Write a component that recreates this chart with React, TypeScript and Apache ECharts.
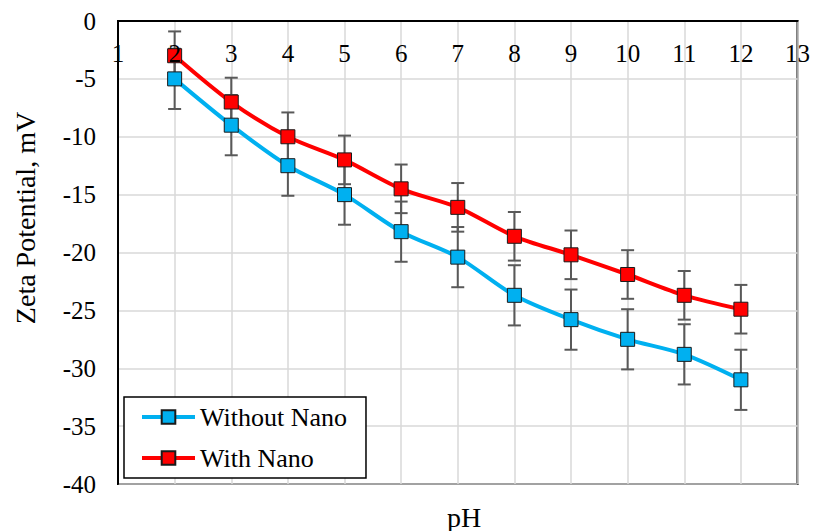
import React, { useEffect, useRef } from "react";
import * as echarts from "echarts";

const phValues = [2, 3, 4, 5, 6, 7, 8, 9, 10, 11, 12];
const withoutNano = [-5.0, -9.0, -12.5, -15.0, -18.2, -20.4, -23.7, -25.8, -27.5, -28.8, -31.0];
const withNano = [-3.0, -7.0, -10.0, -12.0, -14.5, -16.1, -18.6, -20.2, -21.9, -23.7, -24.9];
const withoutNanoErr = [2.6, 2.6, 2.6, 2.6, 2.6, 2.6, 2.6, 2.6, 2.6, 2.6, 2.6];
const withNanoErr = [2.1, 2.1, 2.1, 2.1, 2.1, 2.1, 2.1, 2.1, 2.1, 2.1, 2.1];
const seriesNames = ["Without Nano", "With Nano"];
const yTitle = "Zeta Potential, mV";
const xTitle = "pH";

const FONT = "'Liberation Serif', 'Times New Roman', serif";

function errData(vals: number[], errs: number[]) {
  return phValues.map((x, i) => [x, vals[i] - errs[i], vals[i] + errs[i]]);
}

function errRender(params: any, api: any) {
  const x = api.value(0);
  const lo = api.coord([x, api.value(1)]);
  const hi = api.coord([x, api.value(2)]);
  const cap = 6.5;
  const style = { stroke: "#595959", lineWidth: 2 };
  return {
    type: "group",
    children: [
      { type: "line", shape: { x1: lo[0], y1: lo[1], x2: hi[0], y2: hi[1] }, style },
      { type: "line", shape: { x1: lo[0] - cap, y1: lo[1], x2: lo[0] + cap, y2: lo[1] }, style },
      { type: "line", shape: { x1: hi[0] - cap, y1: hi[1], x2: hi[0] + cap, y2: hi[1] }, style },
    ],
  };
}

export default function App() {
  const ref = useRef<HTMLDivElement>(null);
  useEffect(() => {
    if (!ref.current) return;
    const chart = echarts.init(ref.current, undefined, { renderer: "svg" });
    const gridLine = { show: true, lineStyle: { color: "#d9d9d9", width: 1.5 } };
    const xLabel = {
      inside: true,
      margin: 32,
      verticalAlign: "middle",
      showMinLabel: true,
      showMaxLabel: true,
      color: "#000",
      fontSize: 25,
      fontFamily: FONT,
    };
    chart.setOption({
      animation: false,
      backgroundColor: "#fff",
      grid: {
        left: 118,
        top: 21,
        width: 681,
        height: 463,
        show: true,
        borderColor: "#000",
        borderWidth: 2,
        containLabel: false,
      },
      xAxis: [
        {
          type: "value",
          position: "top",
          min: 1,
          max: 13,
          interval: 1,
          axisLine: { show: true, onZero: false, lineStyle: { color: "#000", width: 2 } },
          axisTick: { show: false },
          splitLine: gridLine,
          axisLabel: { show: false },
        },
        {
          type: "value",
          position: "top",
          offset: 0,
          min: 1,
          max: 13,
          interval: 1,
          z: 20,
          axisLine: { show: false, onZero: false },
          axisTick: { show: false },
          splitLine: { show: false },
          axisLabel: xLabel,
        },
      ],
      yAxis: {
        type: "value",
        min: -40,
        max: 0,
        interval: 5,
        axisLine: { show: true, onZero: false, lineStyle: { color: "#000", width: 2 } },
        axisTick: { show: false },
        splitLine: gridLine,
        axisLabel: {
          margin: 22,
          color: "#000",
          fontSize: 25,
          fontFamily: FONT,
        },
      },
      legend: {
        orient: "vertical",
        left: 124,
        top: 397,
        data: seriesNames,
        padding: [7, 19, 7, 16],
        itemGap: 15,
        itemWidth: 53,
        itemHeight: 17,
        borderColor: "#000",
        borderWidth: 1.5,
        backgroundColor: "#fff",
        lineStyle: { width: 4 },
        textStyle: { fontSize: 26, fontFamily: FONT, color: "#000" },
      },
      graphic: [
        {
          type: "text",
          x: 25,
          y: 218,
          rotation: Math.PI / 2,
          style: {
            text: yTitle,
            font: `28px ${FONT}`,
            fill: "#000",
            align: "center",
            verticalAlign: "middle",
          },
        },
        {
          type: "text",
          x: 464,
          y: 517,
          style: {
            text: xTitle,
            font: `28px ${FONT}`,
            fill: "#000",
            align: "center",
            verticalAlign: "middle",
          },
        },
      ],
      series: [
        {
          type: "custom",
          name: "errWithout",
          renderItem: errRender,
          data: errData(withoutNano, withoutNanoErr),
          encode: { x: 0, y: [1, 2] },
          z: 1,
          silent: true,
        },
        {
          type: "custom",
          name: "errWith",
          renderItem: errRender,
          data: errData(withNano, withNanoErr),
          encode: { x: 0, y: [1, 2] },
          z: 1,
          silent: true,
        },
        {
          type: "line",
          name: seriesNames[0],
          data: phValues.map((x, i) => [x, withoutNano[i]]),
          smooth: 0.3,
          symbol: "rect",
          symbolSize: 14,
          lineStyle: { color: "#00B0F0", width: 4 },
          itemStyle: { color: "#00B0F0", borderColor: "#1a1a1a", borderWidth: 1 },
          z: 3,
        },
        {
          type: "line",
          name: seriesNames[1],
          data: phValues.map((x, i) => [x, withNano[i]]),
          smooth: 0.3,
          symbol: "rect",
          symbolSize: 14,
          lineStyle: { color: "#FF0000", width: 4 },
          itemStyle: { color: "#FF0000", borderColor: "#1a1a1a", borderWidth: 1 },
          z: 3,
        },
      ],
    });
    return () => chart.dispose();
  }, []);
  return (
    <div
      ref={ref}
      style={{ position: "absolute", left: 0, top: 0, width: 813, height: 531 }}
    />
  );
}
